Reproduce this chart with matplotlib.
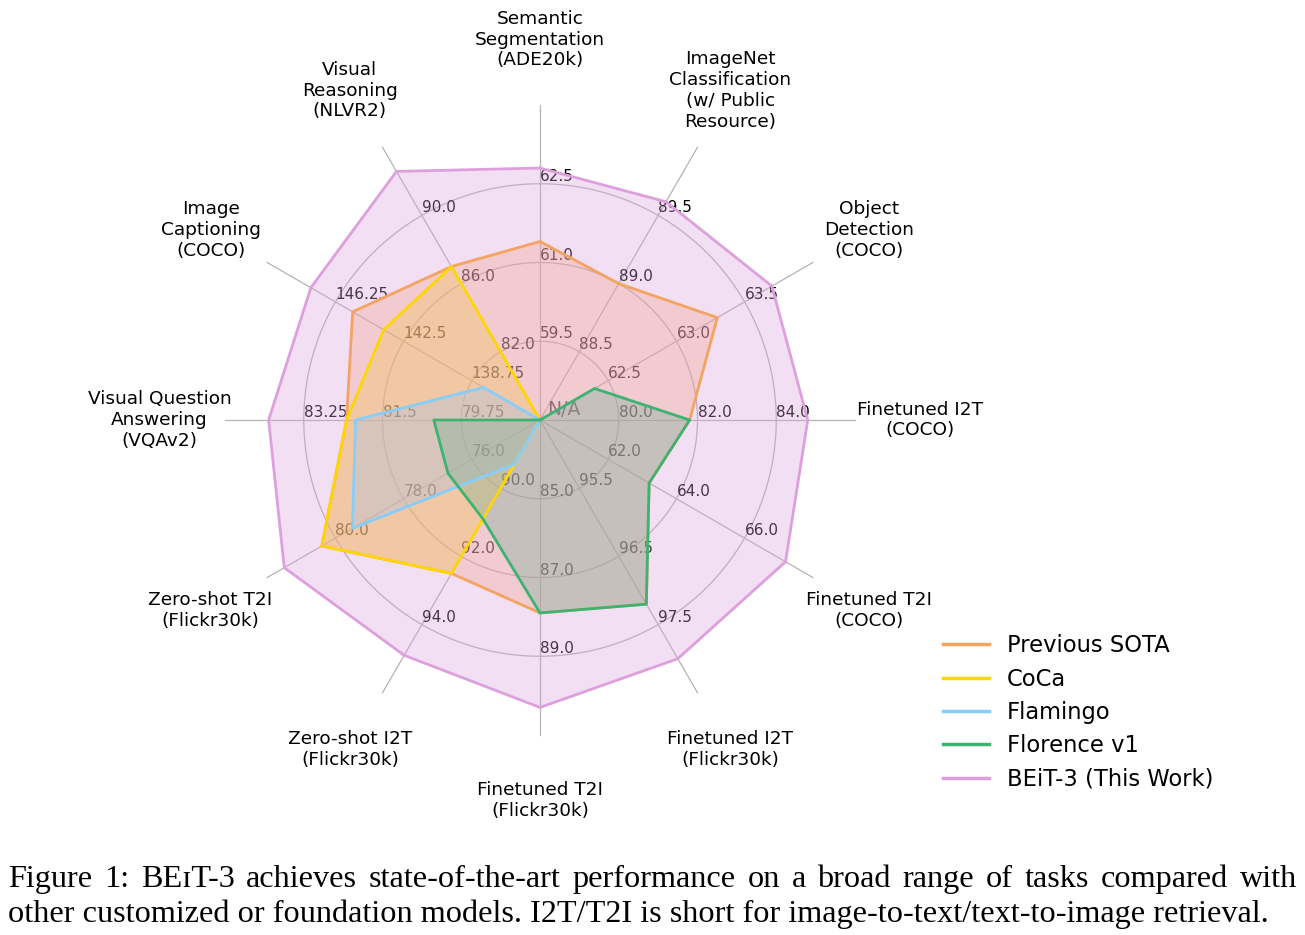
"""Radar chart: BEiT-3 vs previous models on vision / vision-language tasks."""

import numpy as np
import matplotlib.pyplot as plt
from matplotlib.lines import Line2D

tasks = [
    'Semantic\nSegmentation\n(ADE20k)',
    'ImageNet\nClassification\n(w/ Public\nResource)',
    'Object\nDetection\n(COCO)',
    'Finetuned I2T\n(COCO)',
    'Finetuned T2I\n(COCO)',
    'Finetuned I2T\n(Flickr30k)',
    'Finetuned T2I\n(Flickr30k)',
    'Zero-shot I2T\n(Flickr30k)',
    'Zero-shot T2I\n(Flickr30k)',
    'Visual Question\nAnswering\n(VQAv2)',
    'Image\nCaptioning\n(COCO)',
    'Visual\nReasoning\n(NLVR2)',
]

# ring labels for every axis, inner -> outer
tick_labels = [
    ['59.5', '61.0', '62.5'],
    ['88.5', '89.0', '89.5'],
    ['62.5', '63.0', '63.5'],
    ['80.0', '82.0', '84.0'],
    ['62.0', '64.0', '66.0'],
    ['95.5', '96.5', '97.5'],
    ['85.0', '87.0', '89.0'],
    ['90.0', '92.0', '94.0'],
    ['76.0', '78.0', '80.0'],
    ['79.75', '81.5', '83.25'],
    ['138.75', '142.5', '146.25'],
    ['82.0', '86.0', '90.0'],
]

# None = N/A (drawn at the centre)
prev_sota = [61.4, 89.0, 63.3, 81.8, 63.2, 97.2, 87.9, 92.5, 80.4, 82.3, 145.3, 87.0]
coca = [None, None, None, None, None, None, None, 92.5, 80.4, 82.3, 143.6, 87.0]
flamingo = [None, None, None, None, None, None, None, 89.3, 79.5, 82.1, 138.1, None]
florence = [None, None, 62.4, 81.8, 63.2, 97.2, 87.9, 90.9, 76.7, 80.36, None, None]
beit3 = [62.8, 89.6, 63.7, 84.8, 67.2, 98.0, 90.3, 94.9, 81.5, 84.03, 147.6, 92.58]

names = ['Previous SOTA', 'CoCa', 'Flamingo', 'Florence v1', 'BEiT-3 (This Work)']
colors = ['sandybrown', 'gold', 'lightskyblue', 'mediumseagreen', 'plum']
series = [prev_sota, coca, flamingo, florence, beit3]

caption_1 = ('Figure 1: BE\u026aT-3 achieves state-of-the-art performance on a broad '
             'range of tasks compared with')
caption_2 = ('other customized or foundation models. I2T/T2I is short for '
             'image-to-text/text-to-image retrieval.')


def to_radius(vals):
    out = []
    for v, tl in zip(vals, tick_labels):
        if v is None:
            out.append(0.0)
            continue
        base = float(tl[0])
        step = float(tl[1]) - base
        out.append((v - base) / step + 1)
    return out


n = len(tasks)
theta = np.arange(n) * 2 * np.pi / n

fig = plt.figure(figsize=(13.05, 9.35), dpi=100)
ax = fig.add_axes([0.1724, 0.2139, 0.4828, 0.6738], projection='polar')
ax.set_theta_offset(np.pi / 2)
ax.set_theta_direction(-1)
ax.set_ylim(0, 4)
ax.set_xticks([])
ax.set_yticks([])
ax.grid(False)
ax.spines['polar'].set_visible(False)
ax.patch.set_alpha(0)

# grid rings and spokes
circ = np.linspace(0, 2 * np.pi, 400)
for k in [1, 2, 3]:
    ax.plot(circ, np.full_like(circ, k), color='#b4b4b4', lw=0.9, zorder=1)
for th in theta:
    ax.plot([th, th], [0, 4], color='#b4b4b4', lw=0.9, zorder=1, clip_on=False)

# ring labels, under the fills
for th, tl in zip(theta, tick_labels):
    for k, lab in enumerate(tl):
        ax.text(th, k + 1, lab, ha='left', va='bottom', fontsize=11,
                color='black', zorder=1.5)
ax.annotate('N/A', xy=(0, 0), xytext=(5, 1), textcoords='offset points',
            ha='left', va='bottom', fontsize=13.5, color='#333333', zorder=1.5)

# task names
for th, name in zip(theta, tasks):
    ax.text(th, 4.83, name, ha='center', va='center', fontsize=13.3,
            multialignment='center', linespacing=1.2)

theta_c = np.append(theta, theta[0])
for vals, c in zip(series, colors):
    r = to_radius(vals)
    r = r + r[:1]
    ax.fill(theta_c, r, color=c, alpha=0.33, zorder=2, lw=0)
for vals, c in zip(series, colors):
    r = to_radius(vals)
    r = r + r[:1]
    ax.plot(theta_c, r, color=c, lw=2, zorder=3)

handles = [Line2D([], [], color=c, lw=2.5) for c in colors]
fig.legend(handles, names, loc='upper left', bbox_to_anchor=(0.7073, 0.3435),
           frameon=False, fontsize=16.3, labelspacing=0.457, handlelength=2.0)

# caption: first line justified to the right margin, second line ragged
cap = {'family': ['Liberation Serif', 'DejaVu Serif'], 'fontsize': 23.2}
W, H = fig.bbox.width, fig.bbox.height
renderer = fig.canvas.get_renderer()
words = caption_1.split(' ')
objs = [fig.text(0, 1 - 887 / H, w, va='baseline', ha='left', **cap) for w in words]
widths = [o.get_window_extent(renderer).width for o in objs]
gap = (1297 - 8 - sum(widths)) / (len(words) - 1)
x = 8
for o, w in zip(objs, widths):
    o.set_x(x / W)
    x += w + gap
fig.text(8 / W, 1 - 922 / H, caption_2, va='baseline', ha='left', **cap)

fig.savefig('out.png', dpi=100)
